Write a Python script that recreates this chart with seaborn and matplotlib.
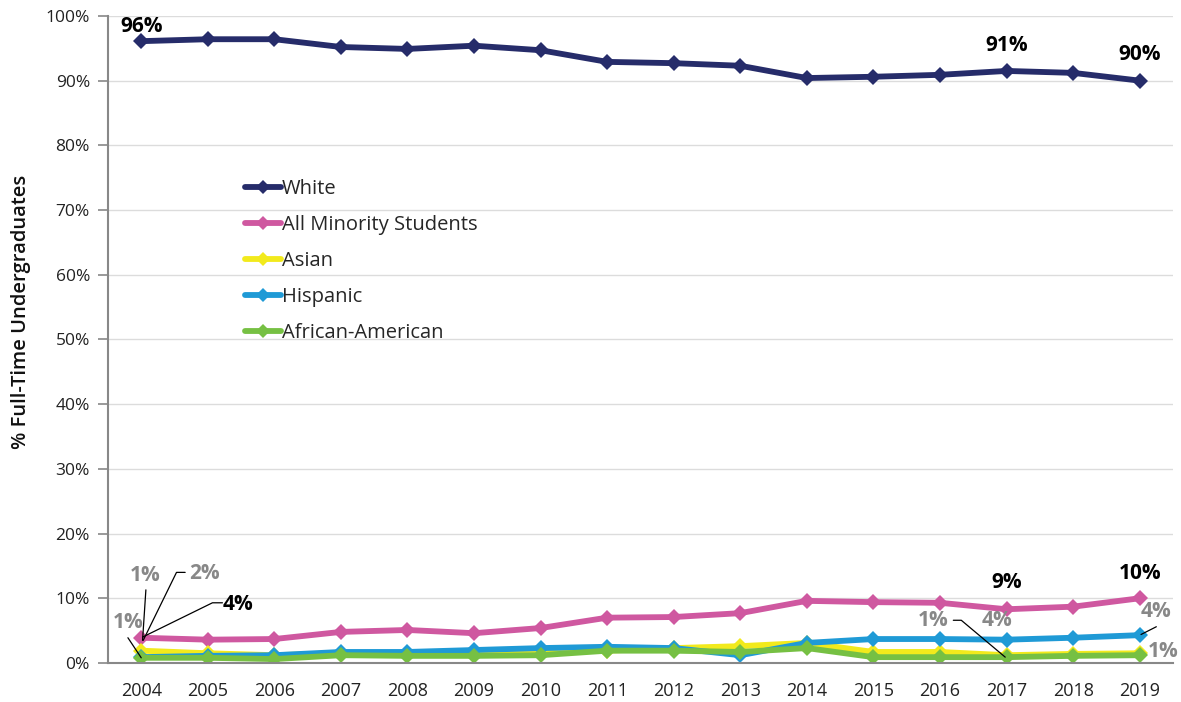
import pandas as pd
import seaborn as sns
import matplotlib.pyplot as plt

years = list(range(2004, 2020))
white = [96.1, 96.4, 96.4, 95.2, 94.9, 95.4, 94.7, 92.9, 92.7, 92.3, 90.4, 90.6, 90.9, 91.5, 91.2, 90.0]
minority = [3.9, 3.6, 3.7, 4.8, 5.1, 4.6, 5.4, 7.0, 7.1, 7.7, 9.6, 9.4, 9.3, 8.3, 8.7, 10.0]
asian = [1.9, 1.5, 1.2, 1.5, 1.5, 1.6, 1.7, 1.9, 2.3, 2.6, 3.1, 1.7, 1.7, 1.2, 1.4, 1.5]
hispanic = [0.9, 1.1, 1.2, 1.7, 1.7, 2.0, 2.3, 2.5, 2.3, 1.2, 3.1, 3.7, 3.7, 3.6, 3.9, 4.3]
african_american = [0.8, 0.8, 0.6, 1.2, 1.1, 1.1, 1.2, 1.9, 1.9, 1.7, 2.3, 0.9, 0.9, 0.9, 1.1, 1.2]

groups = ["White", "All Minority Students", "Asian", "Hispanic", "African-American"]
colors = ["#262C6A", "#CF58A0", "#F2EA1C", "#1F9AD6", "#76C043"]

df = pd.DataFrame({
    "Year": years * 5,
    "Share": white + minority + asian + hispanic + african_american,
    "Group": [g for g in groups for _ in years],
})

sns.set_theme(style="white")
plt.rcParams["font.family"] = ["Open Sans", "DejaVu Sans"]

fig = plt.figure(figsize=(11.81, 7.02), dpi=100)
ax = fig.add_axes([0.0914, 0.0556, 0.9018, 0.9217])

sns.lineplot(data=df, x="Year", y="Share", hue="Group", style="Group",
             hue_order=groups, style_order=groups,
             palette=dict(zip(groups, colors)),
             markers={g: "D" for g in groups}, dashes=False,
             linewidth=4.2, markersize=8.5, markeredgewidth=0, ax=ax)

ax.set_xlim(2003.5, 2019.5)
ax.set_ylim(0, 100)
ax.set_xticks(years)
ax.set_xticklabels([str(y) for y in years], fontsize=13, color="#222222")
ax.set_yticks(range(0, 101, 10))
ax.set_yticklabels([f"{v}%" for v in range(0, 101, 10)], fontsize=12.5, color="#222222")
ax.tick_params(axis="y", left=True, length=7, width=1.2, color="#888888", pad=6)
ax.tick_params(axis="x", bottom=False, pad=8)
ax.yaxis.grid(True, color="#dcdcdc", linewidth=1)
ax.set_axisbelow(True)
for s in ["top", "right"]:
    ax.spines[s].set_visible(False)
for s in ["left", "bottom"]:
    ax.spines[s].set_color("#888888")
    ax.spines[s].set_linewidth(1.5)
ax.set_xlabel("")
ax.set_ylabel("% Full-Time Undergraduates", fontsize=14.5, fontweight="semibold",
              color="#111111", labelpad=12)
ax.yaxis.set_label_coords(-0.0726, 0.5425)

leg = ax.legend(loc="upper left", bbox_to_anchor=(0.112, 0.776), frameon=False,
                fontsize=14.5, handlelength=1.75, handletextpad=0.05, labelspacing=0.79)
for h in leg.legend_handles:
    h.set_linewidth(4.2)
    h.set_markersize(7)

bold = dict(fontsize=15, fontweight="bold", ha="center", va="center", color="black")
grey = dict(fontsize=15, fontweight="bold", ha="center", va="center", color="#888888")
line_kw = dict(color="black", linewidth=0.9)

ax.text(2004, 98.3, "96%", **bold)
ax.text(2017, 95.5, "91%", **bold)
ax.text(2019, 94.0, "90%", **bold)
ax.text(2017, 12.4, "9%", **bold)
ax.text(2019, 13.9, "10%", **bold)
ax.text(2005.45, 9.1, "4%", **bold)
ax.plot([2004.02, 2005.07, 2005.22], [4.0, 9.3, 9.3], **line_kw)

ax.text(2004.06, 13.5, "1%", **grey)
ax.plot([2004.07, 2004.02], [11.3, 3.5], **line_kw)
ax.text(2004.95, 13.9, "2%", **grey)
ax.plot([2004.66, 2004.53, 2004.03], [14.0, 14.0, 3.5], **line_kw)
ax.text(2003.8, 6.3, "1%", **grey)
ax.plot([2003.8, 2004.0], [3.9, 0.8], **line_kw)

ax.text(2015.9, 6.5, "1%", **grey)
ax.plot([2016.2, 2016.32, 2016.98], [6.6, 6.6, 0.9], **line_kw)
ax.text(2016.85, 6.5, "4%", **grey)
ax.text(2019.25, 7.9, "4%", **grey)
ax.plot([2019.25, 2019.02], [5.6, 4.4], **line_kw)
ax.text(2019.36, 1.8, "1%", **grey)

fig.savefig("out.png", dpi=100)
